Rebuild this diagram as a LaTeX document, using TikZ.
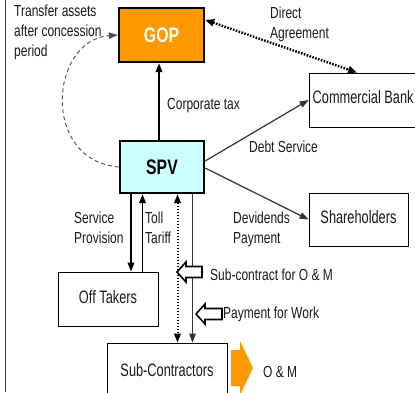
\documentclass[tikz,border=0pt]{standalone}
\usepackage{fontspec}
\setmainfont{Liberation Sans}
\newfontfamily\lblfont{Liberation Sans}[FakeStretch=0.75]
\newfontfamily\boxfont{Liberation Sans}[FakeStretch=0.71]
\usetikzlibrary{arrows.meta,calc}
\definecolor{gopfill}{HTML}{FF9900}
\definecolor{spvfill}{HTML}{CCFFFF}
\definecolor{txt}{HTML}{1A1A1A}

\begin{document}
\begin{tikzpicture}[x=1pt,y=-1pt,
  every node/.style={font=\lblfont\fontsize{16}{19.7}\selectfont, inner sep=0pt, text=txt},
  mainbox/.style={draw, line width=2.3pt, font=\lblfont\fontsize{21}{22}\selectfont\bfseries,
                  text height=15pt, text depth=0pt},
  plainbox/.style={draw, line width=0.8pt, font=\boxfont\fontsize{18}{20}\selectfont,
                   text height=12.8pt, text depth=4pt},
  boxtext/.style={font=\boxfont\fontsize{18}{20}\selectfont},
  lbl/.style={anchor=base west},
  lbls/.style={anchor=north west, align=left},
  tipend/.style={-{Triangle[length=9pt,width=6.5pt]}},
  flow/.style={tipend, line width=1.8pt},
  thinflow/.style={tipend, line width=1.2pt, draw=black!80},
  hollow/.style={draw, line width=1.6pt, fill=white, line join=miter},
]
\useasboundingbox (0,0) rectangle (415,392);
\clip (0,0) rectangle (415,392);

% frame edge on the left
\draw[line width=0.8pt, black!80] (5,0) -- (5,392);

% boxes
\node[mainbox, fill=gopfill, text=white, minimum width=85pt, minimum height=54pt] (gop) at (161.5,35) {GOP};
\node[mainbox, fill=spvfill, text=black, minimum width=84pt, minimum height=52pt] (spv) at (162,167) {SPV};
\node[plainbox, minimum width=116pt, minimum height=54pt] (bank) at (367,100) {};
\node[boxtext, anchor=base west] (banktext) at (312.5,103.5) {Commercial Bank};
\node[plainbox, minimum width=99pt, minimum height=53pt] (sh) at (358.5,219.5) {Shareholders};
\node[plainbox, minimum width=100pt, minimum height=54pt] (off) at (108,299) {Off Takers};
\node[plainbox, minimum width=120pt, minimum height=60pt] (sub) at (167,373) {};
\node[boxtext, anchor=base] (subtext) at (167,376.5) {Sub-Contractors};

% transfer of assets back to GOP
\draw[black!70, line width=0.9pt, dash pattern=on 4pt off 3pt, tipend]
  (spv.west) .. controls (40,160) and (50,40) .. (gop.west);

% corporate tax
\draw[flow] (spv.north -| 159,0) -- (gop.south -| 159,0);

% direct agreement
\draw[line width=2.4pt, dash pattern=on 1.6pt off 1.4pt,
      {Triangle[length=9pt,width=7pt]}-{Triangle[length=9pt,width=7pt]}]
  ([yshift=-13pt]gop.north east) -- (bank.north -| 357,0);

% debt service and dividends
\draw[thinflow] ([yshift=6pt]spv.east) -- (bank.west);
\draw[thinflow] ([yshift=-1pt]spv.east) -- (sh.west);

% service provision and toll tariff
\draw[flow] (spv.south -| 131,0) -- (off.north -| 131,0);
\draw[flow] (off.north -| 142.5,0) -- (spv.south -| 142.5,0);

% sub-contract links
\draw[line width=2pt, dash pattern=on 1.5pt off 1.5pt,
      {Triangle[length=9pt,width=6.5pt]}-{Triangle[length=9pt,width=6.5pt]}]
  (spv.south -| 177.5,0) -- (sub.north -| 177.5,0);
\draw[thinflow] (spv.south -| 192.5,0) -- (sub.north -| 192.5,0);

% hollow block arrows
\draw[hollow] (177,272) -- (186,262) -- (186,266.5) -- (202,266.5) -- (202,277.5) -- (186,277.5) -- (186,282) -- cycle;
\draw[hollow] (196,314) -- (205,304) -- (205,308.5) -- (222,308.5) -- (222,319.5) -- (205,319.5) -- (205,324) -- cycle;

% orange O&M arrow
\fill[gopfill] (231,350) -- (240,350) -- (240,341) -- (253,368) -- (240,395) -- (240,386) -- (231,386) -- cycle;

% labels
\node[lbls] (ltransfer) at (14,5) {Transfer assets\\after concession\\period};
\node[lbls] (ldirect) at (270,7) {Direct\\Agreement};
\node[lbl] (ltax) at (167,109.5) {Corporate tax};
\node[lbl] (ldebt) at (249,152) {Debt Service};
\node[lbls] (ldiv) at (233,211.5) {Devidends\\Payment};
\node[lbls] (lserv) at (74,211.5) {Service\\Provision};
\node[lbls] (ltoll) at (145,211.5) {Toll\\Tariff};
\node[lbl] (lsubc) at (210,280) {Sub-contract for O \& M};
\node[lbl] (lpay) at (223,318.5) {Payment for Work};
\node[lbl] (lom) at (263,377) {O \& M};
\end{tikzpicture}
\end{document}
